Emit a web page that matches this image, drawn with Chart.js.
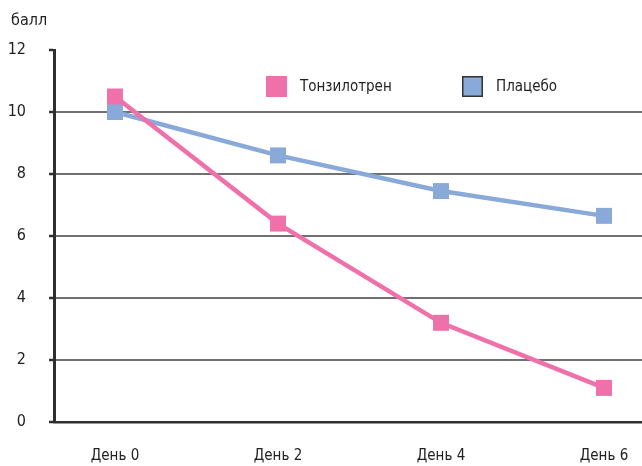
<!DOCTYPE html>
<html>
<head>
<meta charset="utf-8">
<script src="https://cdn.jsdelivr.net/npm/chart.js@4/dist/chart.umd.min.js"></script>
<style>
    html, body { margin: 0; padding: 0; background: #fff; }
    #wrap { width: 642px; height: 466px; }
</style>
</head>
<body>
<div id="wrap"><canvas id="score-chart" width="642" height="466"></canvas></div>
<script>
// days of observation and mean score per group
const days = [0, 2, 4, 6];
const tonsilotren = [10.5, 6.4, 3.2, 1.1];
const placebo = [10.0, 8.6, 7.45, 6.65];
const yTicks = [0, 2, 4, 6, 8, 10, 12];
const seriesNames = ['Тонзилотрен', 'Плацебо'];
const seriesColors = ['#f070aa', '#89a9d8'];
const yUnit = 'балл';

const FONT = "'Liberation Sans Narrow', 'Arial Narrow', 'DejaVu Sans Condensed', sans-serif";
Chart.defaults.font.family = FONT;
Chart.defaults.font.size = 16;
Chart.defaults.color = '#222';

const toPoints = (vals) => days.map((d, i) => ({ x: d, y: vals[i] }));

// unit caption top-left and the legend inside the plot
const overlay = {
    id: 'overlay',
    afterDraw(chart) {
        const ctx = chart.ctx;
        const area = chart.chartArea;
        ctx.save();
        ctx.font = '16px ' + FONT;
        ctx.fillStyle = '#222';
        ctx.textBaseline = 'middle';
        ctx.textAlign = 'left';
        ctx.fillText(yUnit, 11, 21);

        ctx.font = '15px ' + FONT;
        let x = area.left + 212;
        const y = area.top + 26;
        chart.data.datasets.forEach((ds, i) => {
            ctx.fillStyle = ds.borderColor;
            ctx.fillRect(x, y, 21, 21);
            if (i === 1) {
                ctx.strokeStyle = '#333';
                ctx.lineWidth = 1.5;
                ctx.strokeRect(x + 0.75, y + 0.75, 19.5, 19.5);
            }
            ctx.fillStyle = '#222';
            ctx.fillText(ds.label, x + 34, y + 11);
            x += 196;
        });
        ctx.restore();
    }
};

new Chart(document.getElementById('score-chart'), {
    type: 'line',
    data: {
        datasets: [
            {
                label: seriesNames[0],
                data: toPoints(tonsilotren),
                borderColor: seriesColors[0],
                backgroundColor: seriesColors[0],
                borderWidth: 4.5,
                pointStyle: 'rect',
                pointRadius: 11.3,
                pointBorderWidth: 0,
                pointBackgroundColor: seriesColors[0]
            },
            {
                label: seriesNames[1],
                data: toPoints(placebo),
                borderColor: seriesColors[1],
                backgroundColor: seriesColors[1],
                borderWidth: 4.5,
                pointStyle: 'rect',
                pointRadius: 11.3,
                pointBorderWidth: 0,
                pointBackgroundColor: seriesColors[1]
            }
        ]
    },
    options: {
        responsive: false,
        animation: false,
        layout: {
            autoPadding: false,
            padding: { top: 50, left: 0, right: 0, bottom: 0 }
        },
        plugins: {
            legend: { display: false },
            tooltip: { enabled: false }
        },
        scales: {
            x: {
                type: 'linear',
                min: -0.748,
                max: 6.466,
                afterBuildTicks: (scale) => {
                    scale.ticks = days.map(v => ({ value: v }));
                },
                afterFit: (scale) => {
                    scale.height = 44;
                    // let the plot run to the right edge
                    scale.paddingLeft = 0;
                    scale.paddingRight = 0;
                },
                grid: { display: false, drawTicks: false },
                border: { display: true, color: '#2f2f2f', width: 2.5 },
                ticks: {
                    padding: 25,
                    font: { size: 15 },
                    callback: (v) => 'День ' + v
                }
            },
            y: {
                min: 0,
                max: 12,
                afterBuildTicks: (scale) => {
                    scale.ticks = yTicks.map(v => ({ value: v }));
                },
                afterFit: (scale) => { scale.width = 54; },
                grid: {
                    color: (c) => (c.tick && (c.tick.value === 0 || c.tick.value === 12)) ? 'rgba(0,0,0,0)' : '#707070',
                    lineWidth: 2,
                    tickLength: 5,
                    tickColor: '#2f2f2f',
                    tickWidth: 2.5
                },
                border: { display: true, color: '#2f2f2f', width: 3 },
                ticks: { padding: 23 }
            }
        }
    },
    plugins: [overlay]
});
</script>
</body>
</html>
